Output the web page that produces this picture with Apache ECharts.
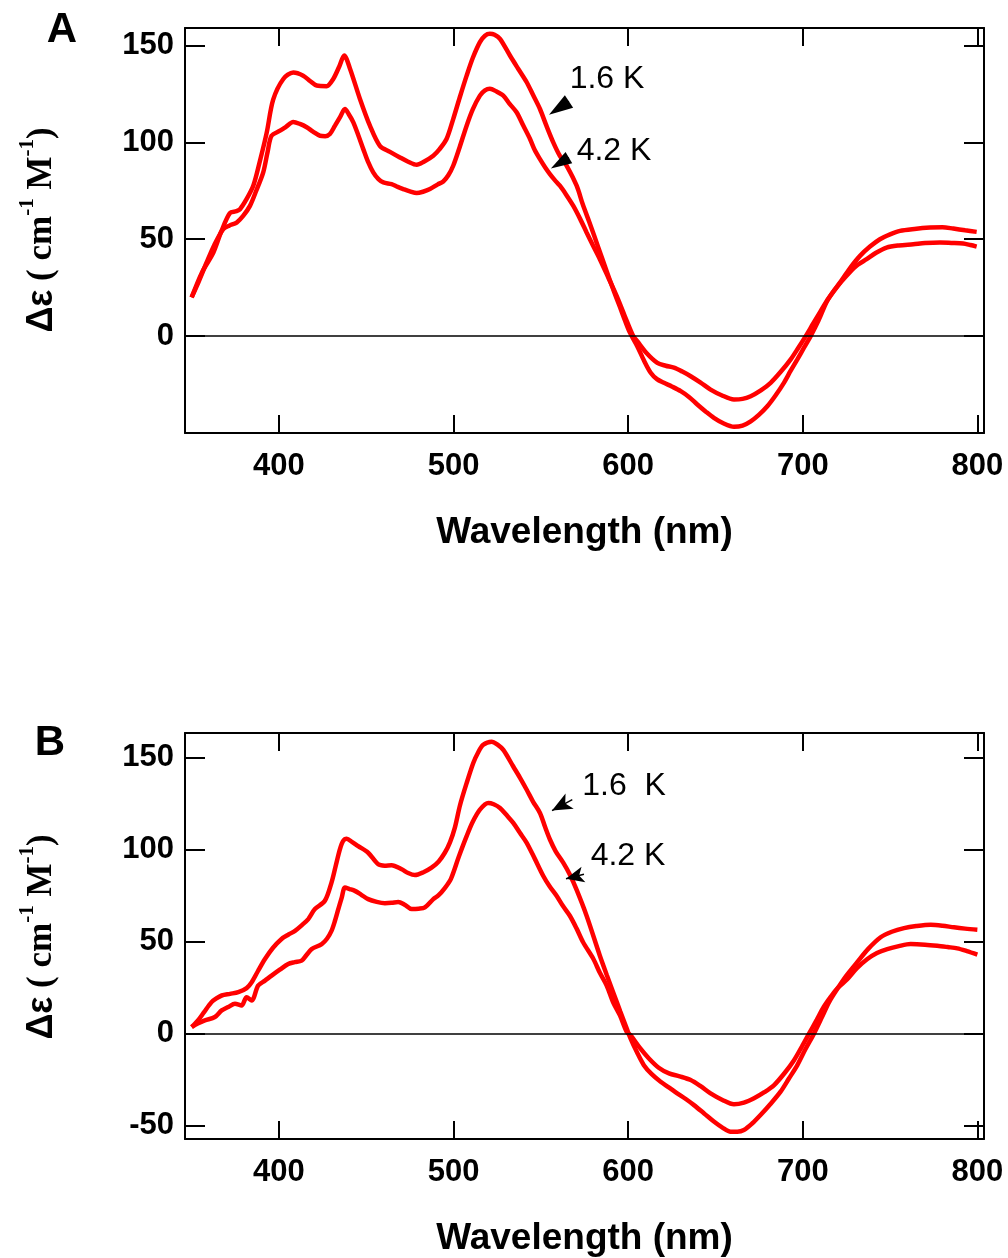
<!DOCTYPE html>
<html><head><meta charset="utf-8">
<script src="https://cdn.jsdelivr.net/npm/echarts@6/dist/echarts.min.js"></script>
<style>html,body{margin:0;padding:0;background:#fff}#c{width:1008px;height:1258px}</style>
</head><body><div id="c"></div>
<script>
// Panel A, 1.6 K  [wavelength nm, delta epsilon]
const specA16 = [[350,20],[356,33],[362.4,43],[367,54],[371.9,63.5],[375.7,64.5],[377.7,65.5],[381,70],[385.3,77.6],[389,90],[393,105],[396.7,122],[402.5,132.7],[408.2,136],[413.9,134.4],[418,131.5],[421.6,129.3],[427.3,129],[431.1,132.7],[434.5,139],[437.4,144.8],[440.7,138],[446.4,122.4],[452.1,108.6],[457.8,98.2],[463.6,95.1],[469.3,92.2],[474,90],[478.9,88.4],[483,90],[488.4,93.1],[492,96.5],[496,101.7],[499.8,112],[503.5,123],[507.5,134.4],[511,143.5],[515.1,151.7],[518,155],[520.8,156],[523.5,155.5],[526.6,153.4],[532.3,144.8],[537,138],[541.9,131],[545.5,124.5],[549.5,117.2],[553,109],[557.1,100],[560.9,93],[564.8,87.9],[570.5,77.6],[574,68],[578.1,58],[583,45.5],[587.7,33.5],[591.5,24],[595.3,15],[598,8.5],[601,1.8],[605.2,-5.2],[609,-12.5],[612.9,-18.9],[616.5,-22.2],[620.5,-24.1],[625,-26],[630.1,-28.4],[635,-31.5],[639.6,-35.3],[644.5,-39],[649.1,-42.2],[654.5,-45],[660.6,-46.8],[665.5,-46.2],[670.2,-44],[675,-40.5],[679.7,-36.2],[684.5,-30.5],[689.2,-24.1],[693,-18],[696.9,-12],[700.7,-6],[704.5,0],[709,8],[713.6,17.5],[717.5,23],[721.3,27.6],[727,35],[732.8,41.4],[738.5,46.2],[744.2,50],[750,52.5],[755.7,54.3],[764,55.3],[772.9,56],[780,56.2],[786.2,55.5],[793,54.6],[799.6,53.8]];
// Panel A, 4.2 K
const specA42 = [[350,20],[354,28],[358.6,38],[363,47],[368.1,55.2],[371.5,57],[375.8,58.6],[379.5,62],[383.4,67.2],[387,75],[391,84.5],[393.5,95],[395.8,103.4],[400.6,106],[404,108],[408.2,110.5],[412,109.5],[415.9,107.8],[419.5,105.5],[423.5,103.4],[426.5,103.2],[429.2,104.3],[432.1,108.6],[435,113],[437.8,117.2],[440,114.5],[442.6,110.3],[445.5,103.5],[448.3,96.5],[451,90],[454,84.5],[457,81],[459.8,79.3],[464.5,78.4],[468,77],[471.2,75.9],[475,74.7],[478.9,73.8],[482.5,74.5],[486.5,75.9],[491,78.3],[494.1,79.8],[497,83],[499.8,87.9],[503.5,97.5],[507.5,108.6],[511,117],[515.1,124.1],[518,126.8],[520.8,127.6],[524.5,126.3],[528.5,124.1],[532,120],[536.1,115.5],[540,108.5],[543.8,101.7],[546.5,96],[549.5,91.3],[552.5,87],[555.2,83.6],[558,80.5],[560.9,77.6],[564.5,73],[568.6,67.2],[572.5,60.5],[576.2,53.5],[580,46.5],[583.8,39.7],[588.5,30.5],[593.4,20.7],[598,10.5],[602.9,0],[605.2,-2.6],[610.5,-8.7],[616.7,-13.8],[621.5,-15.3],[626.2,-16.3],[631,-18.3],[635.8,-20.7],[641.5,-24],[647.2,-27.6],[653.5,-30.5],[660.6,-32.7],[665.5,-32.4],[670.2,-31],[676,-28],[681.6,-24.1],[687.5,-18.3],[693.1,-12],[697.5,-6],[701.7,0],[706,6.5],[710,12.5],[714,18.5],[718,23.5],[722,28],[727,33],[731.5,36.8],[736.6,39.7],[742,43],[748,45.7],[755,46.8],[763.3,47.4],[770,48],[778.6,48.3],[785,48.1],[791.9,47.8],[796,47],[799.6,46.2]];
// Panel B, 1.6 K
const specB16 = [[350,3.6],[353.5,7],[357,11.5],[361.4,17.1],[364,19],[367.2,20.7],[372,21.6],[376.7,22.5],[381.5,24.7],[384.4,27.9],[388,34],[392,40.5],[396.5,46.5],[401.5,51.4],[405.5,53.8],[409.2,55.8],[413,58.8],[416.8,62.2],[420.6,67.6],[426.3,72.1],[430.1,82],[432.5,91],[434.9,100],[436.7,104.5],[438.8,105.8],[442,104],[445.4,101.8],[451.1,98.2],[456.9,91.9],[460.5,91.2],[464.5,91.4],[470.3,89.2],[474,87.2],[477.9,86.1],[482.5,87.5],[487.4,90.1],[491.5,93.5],[495,98.2],[498,104],[500.8,112],[503.7,124],[507.5,136],[511.3,146.9],[514,152.5],[517,156.8],[521.8,158.5],[525,157],[528.5,154],[534.2,145],[538,139],[541.9,132.4],[545.5,126],[549.5,119.8],[552.5,112],[555.2,105.4],[558.5,99],[562.8,92.8],[566.5,86.5],[570.5,78],[576.2,64],[583.8,42.3],[587.7,32],[591.4,22.5],[595.5,12],[599.2,2.7],[601.4,-2.7],[605,-10],[609,-17.1],[613.5,-22],[618.6,-26.1],[623.5,-29.3],[628.1,-32.4],[633,-35.5],[637.7,-38.8],[643.5,-43.3],[649.1,-47.7],[654,-51],[658.7,-53.2],[662.5,-53.2],[666.3,-52.3],[671,-48.8],[675.8,-44.2],[681.5,-38.2],[687.3,-31.5],[692,-24.5],[696.9,-17.1],[701.5,-8.5],[706.4,0],[711,9],[715,17],[719.8,24.3],[725,31.5],[731.2,38.8],[737.5,46],[744.6,52.3],[751,55.3],[758,57.3],[765,58.4],[773.3,59.1],[780,58.6],[786.6,57.7],[793,57],[800,56.4]];
// Panel B, 4.2 K
const specB42 = [[350,3.6],[353.5,5.5],[357.6,7.2],[363.3,9],[367.2,12.6],[371,14.5],[374.8,16.2],[378.6,15.3],[381.5,19.8],[384.4,18],[388.1,26.1],[392,28.8],[395.8,31.5],[400.5,34.7],[405.3,37.8],[409,38.8],[413,39.6],[415.8,42.7],[418.7,45.9],[424.5,48.6],[427.5,51.5],[430.1,55.8],[432,61],[434,67.6],[436,74],[437.8,79.3],[440.5,78.5],[443.5,77.5],[447,75.5],[451.1,73],[456,71.5],[460.7,70.8],[464.5,71],[468.3,71.5],[472,70],[476,67.6],[480,67.8],[483.6,68.5],[488.4,73],[491.3,75],[495,79],[498.5,84],[503,96],[507.5,107.2],[511,115],[515.1,121.6],[519.9,125.2],[523,124.5],[526.6,122.5],[530.5,118.5],[534.2,114.4],[538,109],[541.9,103.6],[546.5,95],[551.4,85.6],[555,80],[559,74.8],[562.5,69.5],[566.6,64],[570.5,57],[574.2,49.6],[580.1,40.5],[583.8,33],[587.7,26.1],[591.4,17],[595.3,9.9],[599.2,0.9],[601.4,-0.9],[606.5,-7.5],[611.9,-13.5],[617.5,-18.5],[623.4,-21.6],[629.5,-23.2],[635.8,-25.2],[641.5,-28.5],[647.2,-32.4],[654,-36],[660.6,-38.4],[666.3,-37.5],[672.1,-35.1],[678,-31.8],[683.6,-27.9],[689.5,-21.5],[695,-14.4],[699.5,-7],[703.6,0],[708,7.5],[712,14.5],[716,20],[720,24.8],[725.5,29.5],[731,35.5],[737,40.5],[742.5,43.8],[748.4,45.9],[755,47.5],[761.8,48.6],[770,48.3],[777,47.7],[783,47],[788.5,46.3],[794,44.8],[800,42.9]];

const xRange = [346.2, 803.8];
const yRangeA = [-50, 159];
const yRangeB = [-57.2, 163.2];
const xTickStep = 100;
const yTickStep = 50;

const SANS = '"Liberation Sans", Arial, sans-serif';
const SERIF = '"Liberation Serif", "Times New Roman", serif';

const chart = echarts.init(document.getElementById('c'), null, {renderer: 'canvas'});

function xAx(gi, pos, showLab) {
  return {
    type: 'value', gridIndex: gi, position: pos,
    min: xRange[0], max: xRange[1], minInterval: xTickStep, maxInterval: xTickStep,
    axisLine: {show: true, onZero: false, lineStyle: {color: '#000', width: 2}},
    axisTick: {show: true, inside: true, length: 18, lineStyle: {color: '#000', width: 2}},
    axisLabel: {show: showLab, margin: 18, color: '#000', fontSize: 31, fontWeight: 'bold', fontFamily: SANS,
      formatter: v => (Math.abs(v % xTickStep) < 1e-6 ? String(v) : '')},
    splitLine: {show: false},
    name: showLab ? 'Wavelength (nm)' : '', nameLocation: 'middle', nameGap: 81,
    nameTextStyle: {color: '#000', fontSize: 37, fontWeight: 'bold', fontFamily: SANS}
  };
}
function yAx(gi, pos, range, showLab, hideMinLabel) {
  return {
    type: 'value', gridIndex: gi, position: pos,
    min: range[0], max: range[1], minInterval: yTickStep, maxInterval: yTickStep,
    axisLine: {show: true, onZero: false, lineStyle: {color: '#000', width: 2}},
    axisTick: {show: true, inside: true, length: 20, lineStyle: {color: '#000', width: 2}},
    axisLabel: {show: showLab, margin: 11, color: '#000', fontSize: 31, fontWeight: 'bold', fontFamily: SANS,
      formatter: v => {
        if (Math.abs(v % yTickStep) > 1e-6) return '';
        if (hideMinLabel && v <= range[0] + 1e-6) return '';
        return String(v);
      }},
    splitLine: {show: false}
  };
}

function curve(data, xi, yi, extra) {
  return Object.assign({
    type: 'line', xAxisIndex: xi, yAxisIndex: yi, data: data,
    showSymbol: false, symbol: 'none', smooth: 0.3,
    lineStyle: {color: '#ff0000', width: 4.5}, itemStyle: {color: '#ff0000'},
    silent: true, z: 3
  }, extra || {});
}

const zeroLine = {
  silent: true, symbol: ['none', 'none'], label: {show: false},
  lineStyle: {color: '#000', width: 1.5, type: 'solid'},
  data: [{yAxis: 0}]
};
function arrows(list) {
  return {
    silent: true, label: {show: false}, lineStyle: {color: '#000', width: 1.5, type: 'solid'},
    data: list.map(a => [
      {coord: a.from, symbol: 'none'},
      {coord: a.to, symbol: a.sym, symbolSize: a.size}
    ])
  };
}

const option = {
  animation: false,
  backgroundColor: '#fff',
  grid: [
    {left: 185, top: 28, width: 799, height: 405},
    {left: 185, top: 733, width: 799, height: 408}
  ],
  xAxis: [xAx(0, 'bottom', true), xAx(0, 'top', false), xAx(1, 'bottom', true), xAx(1, 'top', false)],
  yAxis: [yAx(0, 'left', yRangeA, true, true), yAx(0, 'right', yRangeA, false, true),
          yAx(1, 'left', yRangeB, true, false), yAx(1, 'right', yRangeB, false, false)],
  series: [
    curve(specA42, 0, 0, {z: 2, markLine: zeroLine}),
    curve(specA16, 0, 0, {markLine: arrows([
      {from: [566.1, 121.1], to: [560.4, 117.7], sym: 'triangle', size: [15, 24]},
      {from: [566.1, 92.1], to: [560.9, 89.3], sym: 'triangle', size: [13, 21]}
    ])}),
    curve(specB42, 2, 2, {z: 2, markLine: zeroLine}),
    curve(specB16, 2, 2, {markLine: arrows([
      {from: [568.0, 127.0], to: [556.4, 121.1], sym: 'arrow', size: [13, 20]},
      {from: [574.7, 86.5], to: [564.4, 84.1], sym: 'arrow', size: [12, 18]}
    ])})
  ],
  graphic: [
    {type: 'text', x: 62, y: 30, style: {text: 'A', fill: '#000', fontSize: 42, fontWeight: 'bold', fontFamily: SANS, align: 'center', verticalAlign: 'middle'}},
    {type: 'text', x: 50, y: 743, style: {text: 'B', fill: '#000', fontSize: 42, fontWeight: 'bold', fontFamily: SANS, align: 'center', verticalAlign: 'middle'}},
    {type: 'text', x: 607, y: 79, style: {text: '1.6 K', fill: '#000', fontSize: 32, fontFamily: SANS, align: 'center', verticalAlign: 'middle'}},
    {type: 'text', x: 614, y: 151, style: {text: '4.2 K', fill: '#000', fontSize: 32, fontFamily: SANS, align: 'center', verticalAlign: 'middle'}},
    {type: 'text', x: 624, y: 786, style: {text: '1.6  K', fill: '#000', fontSize: 32, fontFamily: SANS, align: 'center', verticalAlign: 'middle'}},
    {type: 'text', x: 628, y: 856, style: {text: '4.2 K', fill: '#000', fontSize: 32, fontFamily: SANS, align: 'center', verticalAlign: 'middle'}}
  ].concat([230, 937].map(cy => ({
    type: 'text', x: 42, y: cy, rotation: Math.PI / 2,
    style: {
      text: '{d|Δε}{t| ( cm}{s|-1}{t| M}{s|-1}{t|)}',
      fill: '#000', align: 'center', verticalAlign: 'middle',
      rich: {
        d: {fontSize: 36, fontWeight: 'bold', fontFamily: SANS, lineHeight: 50, fill: '#000'},
        t: {fontSize: 35, fontWeight: 'bold', fontFamily: SERIF, lineHeight: 50, fill: '#000'},
        s: {fontSize: 21, fontWeight: 'bold', fontFamily: SERIF, lineHeight: 8, verticalAlign: 'top', fill: '#000'}
      }
    }
  })))
};
chart.setOption(option);
</script>
</body></html>
